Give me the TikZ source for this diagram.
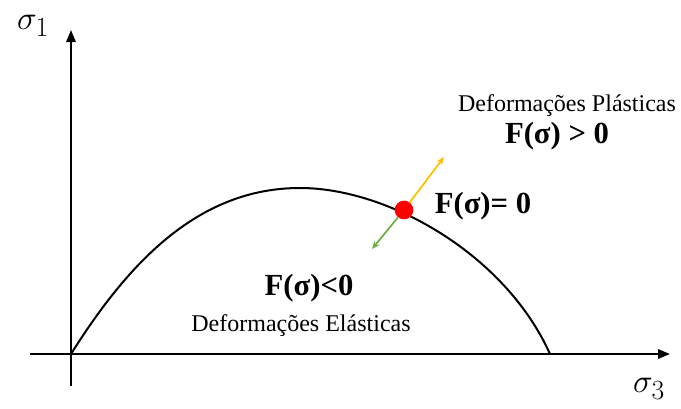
\documentclass[tikz,border=0pt]{standalone}
\usepackage{fontspec}
\setmainfont{Liberation Serif}
\usetikzlibrary{arrows.meta}

\tikzset{
  eixo/.style={line width=1.6pt, -{Triangle[length=9pt, width=7pt]}},
  seta/.style={line width=1.3pt, -{Stealth[length=6pt, width=5pt]}},
  rotulo/.style={inner sep=0pt, font=\fontsize{18}{21}\selectfont},
  funcao/.style={inner sep=0pt, font=\fontsize{23}{27}\selectfont\bfseries}
}

\begin{document}
\begin{tikzpicture}[x=0.75pt, y=-0.75pt]

        \useasboundingbox (0,0) rectangle (681,408);

        % eixos
        \coordinate (xini) at (30,354);
        \coordinate (xfim) at (670,354);
        \coordinate (yini) at (71,386);
        \coordinate (yfim) at (71,30);
        \draw[eixo] (xini) -- (xfim);
        \draw[eixo] (yini) -- (yfim);
        \node (s1) at (33,26) {\fontsize{31}{34}\selectfont$\sigma_1$};
        \node (s3) at (649,389) {\fontsize{31}{34}\selectfont$\sigma_3$};

        % superficie de escoamento
        \coordinate (ini) at (71,354);
        \coordinate (topo) at (300,188);
        \coordinate (fim) at (550,354);
        \draw[line width=1.5pt] (ini) .. controls (130,260) and (200,188) .. (topo)
          .. controls (388,188) and (505,254) .. (fim);

        % ponto e setas
        \node[circle, fill=red, inner sep=0pt, minimum size=14pt] (ponto) at (404,210) {};
        \coordinate (fora) at (444,157);
        \coordinate (dentro) at (372,249);
        \draw[seta, draw={rgb,255:red,255;green,192;blue,0}] (ponto) -- (fora);
        \draw[seta, draw={rgb,255:red,112;green,173;blue,71}] (ponto) -- (dentro);

        % textos
        \node[rotulo] (plast) at (567,106) {Deformações Plásticas};
        \node[funcao] (fmaior) at (557,136) {F(σ) > 0};
        \node[funcao] (figual) at (483,206) {F(σ)= 0};
        \node[funcao] (fmenor) at (309,288) {F(σ)<0};
        \node[rotulo] (elast) at (301,326) {Deformações Elásticas};

    \end{tikzpicture}
\end{document}
